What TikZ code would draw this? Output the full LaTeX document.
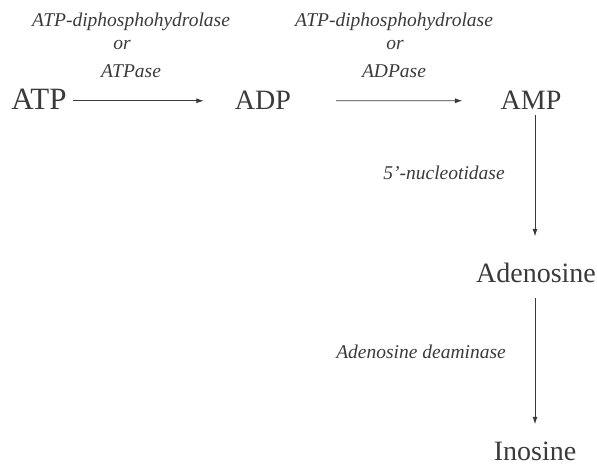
\documentclass[tikz,border=0pt]{standalone}
\usepackage{fontspec}
\setmainfont{Liberation Serif}
\usetikzlibrary{arrows.meta}
\definecolor{ink}{HTML}{3A3A3A}
\begin{document}
\begin{tikzpicture}[x=1pt,y=-1pt,
  chem/.style={inner sep=0pt, anchor=base, text=ink, font=\fontsize{28}{30}\selectfont},
  enz/.style={inner sep=0pt, anchor=base, text=ink, font=\fontsize{19.5}{22}\selectfont\itshape},
  arr/.style={draw=ink, line width=0.9pt, -{Latex[length=7.5pt,width=5pt]}}]
\useasboundingbox (0,0) rectangle (597,465);

% metabolites
\node[chem, font=\fontsize{31}{33}\selectfont] (ATP) at (39,110) {ATP};
\node[chem] (ADP)  at (263,110) {ADP};
\node[chem] (AMP)  at (531,110) {AMP};
\node[chem] (ADO)  at (536,282) {Adenosine};
\node[chem] (INO)  at (535,460) {Inosine};

% enzymes, first step
\node[enz] (e1a) at (131,27) {ATP-diphosphohydrolase};
\node[enz] (e1b) at (122,50) {or};
\node[enz] (e1c) at (131,78) {ATPase};

% enzymes, second step
\node[enz] (e2a) at (394,27) {ATP-diphosphohydrolase};
\node[enz] (e2b) at (395,50) {or};
\node[enz] (e2c) at (394,78) {ADPase};

% enzymes, vertical steps
\node[enz] (e3) at (444,180) {5'-nucleotidase};
\node[enz] (e4) at (421,358) {Adenosine deaminase};

% reactions
\draw[arr, shorten <=6pt, shorten >=31pt] (ADP.west -| ATP.east) -- (ADP.west);
\draw[arr, shorten <=45pt, shorten >=38pt] (ADP.east) -- (AMP.west);
\draw[arr, shorten <=5pt, shorten >=26pt] (AMP.south -| INO) -- (ADO.north -| INO);
\draw[arr, shorten <=16pt, shorten >=17pt] (ADO.south -| INO) -- (INO.north);
\end{tikzpicture}
\end{document}
